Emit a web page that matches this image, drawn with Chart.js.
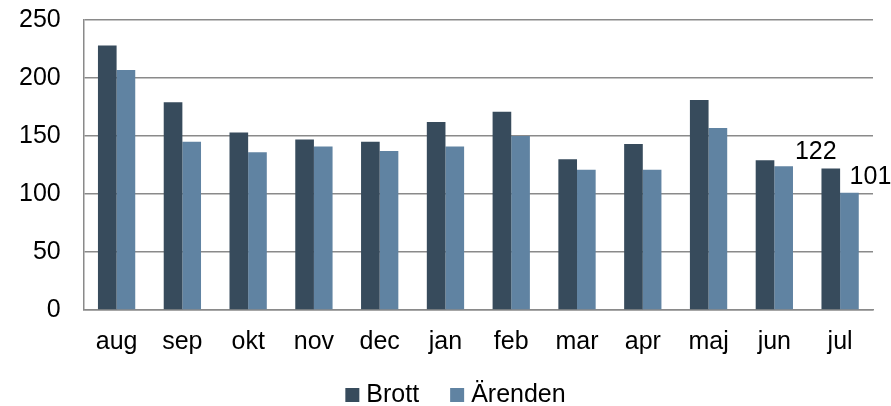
<!DOCTYPE html>
<html>
<head>
<meta charset="utf-8">
<script src="https://cdn.jsdelivr.net/npm/chart.js@4"></script>
<style>
  body { margin: 0; background: #fff; }
  #wrap { width: 891px; height: 406px; }
</style>
</head>
<body>
<div id="wrap"><canvas id="myChart"></canvas></div>
<script>
const manader = ['aug', 'sep', 'okt', 'nov', 'dec', 'jan', 'feb', 'mar', 'apr', 'maj', 'jun', 'jul'];
const brott = [228, 179, 153, 147, 145, 162, 171, 130, 143, 181, 129, 122];
const arenden = [207, 145, 136, 141, 137, 141, 150, 121, 121, 157, 124, 101];
const yTicks = [0, 50, 100, 150, 200, 250];

const gridFarg = '#8a8a8a';
const typsnitt = '"Liberation Sans", Arial, sans-serif';

// skriver ut värdena för sista månaden, som i originalet
const sistaEtiketter = {
  id: 'sistaEtiketter',
  afterDatasetsDraw(chart) {
    const c = chart.ctx;
    const sista = manader.length - 1;
    const forskj = [-15, 21];
    c.save();
    c.font = '25px ' + typsnitt;
    c.fillStyle = '#000';
    c.textAlign = 'center';
    c.textBaseline = 'alphabetic';
    chart.data.datasets.forEach((ds, i) => {
      const bar = chart.getDatasetMeta(i).data[sista];
      c.fillText(String(ds.data[sista]), bar.x + forskj[i], bar.y - 9);
    });
    c.restore();
  }
};

// egen förklaring längst ner (inbyggda legenden har för lite avstånd mellan posterna)
const forklaring = {
  id: 'forklaring',
  afterDraw(chart) {
    const c = chart.ctx;
    const ds = chart.data.datasets;
    const ruta = 14, glapp = 7, mellan = 31;
    const baslinje = chart.height - 4;
    c.save();
    c.font = '25px ' + typsnitt;
    c.textBaseline = 'alphabetic';
    c.textAlign = 'left';
    const bredder = ds.map((d) => c.measureText(d.label).width);
    let total = 0;
    bredder.forEach((b, i) => {
      total += ruta + glapp + b + (i < ds.length - 1 ? mellan : 0);
    });
    let x = chart.width / 2 + 10 - total / 2;
    ds.forEach((d, i) => {
      c.fillStyle = d.backgroundColor;
      c.fillRect(x, baslinje - ruta, ruta, ruta);
      x += ruta + glapp;
      c.fillStyle = '#000';
      c.fillText(d.label, x, baslinje);
      x += bredder[i] + mellan;
    });
    c.restore();
  }
};

const ctx = document.getElementById('myChart');

new Chart(ctx, {
  type: 'bar',
  data: {
    labels: manader,
    datasets: [{
      label: 'Brott',
      data: brott,
      backgroundColor: '#374B5C',
      borderWidth: 0
    }, {
      label: 'Ärenden',
      data: arenden,
      backgroundColor: '#6083A2',
      borderWidth: 0
    }]
  },
  options: {
    responsive: true,
    maintainAspectRatio: false,
    animation: false,
    layout: {
      padding: { top: 20, right: 18, left: 4, bottom: 39 }
    },
    datasets: {
      bar: {
        categoryPercentage: 0.567,
        barPercentage: 1
      }
    },
    plugins: {
      tooltip: { enabled: false },
      legend: { display: false }
    },
    scales: {
      x: {
        grid: { display: false },
        border: { display: true, color: gridFarg, width: 1.5 },
        ticks: {
          color: '#000',
          padding: 12,
          font: { family: typsnitt, size: 25, lineHeight: 1 }
        },
        afterFit: (axis) => {
          axis.paddingLeft = 0;
          axis.paddingRight = 0;
        }
      },
      y: {
        min: 0,
        max: 250,
        afterBuildTicks: (axis) => {
          axis.ticks = yTicks.map((v) => ({ value: v }));
        },
        afterFit: (axis) => {
          axis.paddingTop = 0;
          axis.paddingBottom = 0;
          axis.width -= 8;
        },
        grid: { color: gridFarg, lineWidth: 1.5, drawTicks: false },
        border: { display: true, color: gridFarg, width: 1.5 },
        ticks: {
          color: '#000',
          padding: 23,
          font: { family: typsnitt, size: 25 }
        }
      }
    }
  },
  plugins: [sistaEtiketter, forklaring]
});
</script>
</body>
</html>
